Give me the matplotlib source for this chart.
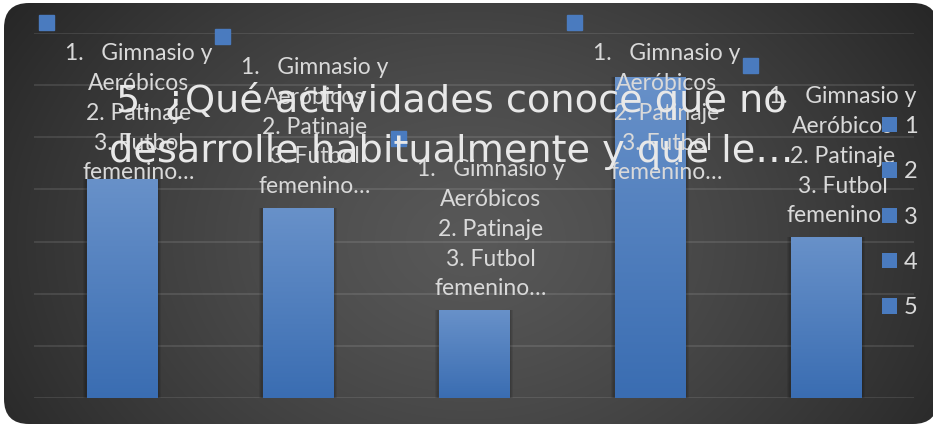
import numpy as np
import matplotlib.pyplot as plt
from matplotlib.patches import FancyBboxPatch, Rectangle, Patch
from matplotlib.colors import LinearSegmentedColormap

# datos
categorias = ['1', '2', '3', '4', '5']
valores = [15, 13, 6, 22, 11]
etiqueta = '1.   Gimnasio y\nAeróbicos\n2. Patinaje\n3. Futbol\nfemenino…'
titulo = '5. ¿Qué actividades conoce que no\ndesarrolle habitualmente y que le…'
ymax = 25

W, H = 933, 425
fig = plt.figure(figsize=(W / 100, H / 100), dpi=100)
fig.patch.set_facecolor('white')

# fondo redondeado con degradado radial
bg = fig.add_axes([0, 0, 1, 1])
bg.set_xlim(0, W)
bg.set_ylim(H, 0)
bg.axis('off')
caja = FancyBboxPatch((4, 3), 934, 421, boxstyle='round,pad=0,rounding_size=25',
                      fc='none', ec='none')
bg.add_patch(caja)
yy, xx = np.mgrid[0:H, 0:W]
r = np.clip(np.sqrt(((xx - 470) / 560.) ** 2 + ((yy - 240) / 430.) ** 2), 0, 1)
claro = np.array([0x58] * 3) / 255
oscuro = np.array([0x26] * 3) / 255
img = claro + (oscuro - claro) * r[..., None] ** 1.3
im = bg.imshow(img, extent=(0, W, H, 0), aspect='auto')
im.set_clip_path(caja)

# grafico
ax = fig.add_axes([34 / W, 1 - 398 / H, 880 / W, 365 / H])
ax.set_facecolor('none')
x = np.arange(len(categorias))
ancho = 0.403
for k in range(1, 4):
    ax.bar(x, valores, width=ancho + 0.014 * k, color='black', alpha=0.08, zorder=1)
barras = ax.bar(x, valores, width=ancho, color='#4f81c4', zorder=2)
grad = np.linspace(0, 1, 256)[:, None]
cmap = LinearSegmentedColormap.from_list('azul', ['#3a6db2', '#6891c9'])
for b in barras:
    g = ax.imshow(grad, cmap=cmap, origin='lower', aspect='auto', zorder=2.5,
                  extent=(b.get_x(), b.get_x() + b.get_width(), 0, b.get_height()))
    g.set_clip_path(b)

ax.set_xlim(-0.5, 4.5)
ax.set_ylim(0, ymax)
ax.set_yticks(np.linspace(0, ymax, 8))
ax.grid(axis='y', color='white', alpha=0.1, lw=1.5)
ax.set_axisbelow(True)
for s in ax.spines.values():
    s.set_visible(False)
ax.tick_params(left=False, bottom=False, labelleft=False, labelbottom=False)

# etiquetas de datos
etqs = []
for xi, v in zip(x, valores):
    t = ax.annotate(etiqueta, (xi, v), xytext=(17, 11), textcoords='offset pixels',
                    ha='center', va='bottom', multialignment='center',
                    fontsize=16.5, color='#d9d9d9', family='Lato', linespacing=1.52,
                    zorder=4, annotation_clip=False)
    etqs.append(t)
fig.canvas.draw()
tope = H - 43
for t in etqs:
    bb = t.get_window_extent()
    if bb.y1 > tope:
        dx, dy = t.xyann
        t.xyann = (dx, dy - (bb.y1 - tope))
fig.canvas.draw()
for t in etqs:
    bb = t.get_window_extent()
    fig.add_artist(Rectangle(((bb.x0 - 26.5) / W, (bb.y1 + 13) / H), 15 / W, 15 / H,
                             transform=fig.transFigure, color='#4a7bbf', zorder=4))

# titulo
fig.text(451 / W, 1 - 126 / H, titulo, ha='center', va='center', fontsize=27.5,
         color='#e8e8e8', family='DejaVu Sans', linespacing=1.52, zorder=5)

# leyenda
manijas = [Patch(facecolor='#4a7bbf') for _ in categorias]
fig.legend(manijas, categorias, loc='upper left', bbox_to_anchor=(882 / W, 1 - 116 / H),
           frameon=False, prop={'family': 'Lato', 'size': 17}, labelcolor='#d9d9d9',
           handlelength=0.63, handleheight=0.63, handletextpad=0.3,
           labelspacing=1.03, borderaxespad=0, borderpad=0)

fig.savefig('out.png', dpi=100, facecolor='white')
